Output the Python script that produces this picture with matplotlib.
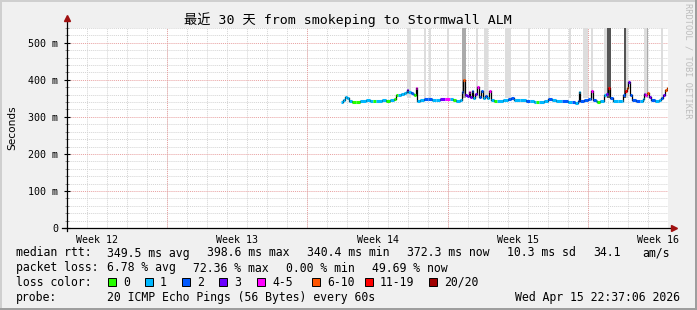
import numpy as np
import matplotlib
matplotlib.use("Agg")
import matplotlib.pyplot as plt
from matplotlib.patches import Rectangle

W, H = 697, 310

# median rtt, time in days since start of the 30 day window
med_t = [13.68, 13.78, 13.88, 13.98, 14.08, 14.23, 14.43, 14.63, 14.93, 15.13,
         15.28, 15.43, 15.73, 15.93, 16.13, 16.33, 16.43, 16.53, 16.68, 16.83,
         16.93, 16.98, 17.03, 17.18, 17.28, 17.33, 17.43, 17.48, 17.62, 17.82,
         18.02, 18.22, 18.42, 18.62, 18.87, 19.12, 19.27, 19.42, 19.62, 19.72,
         19.77, 19.87, 19.97, 20.07, 20.12, 20.22, 20.27, 20.37, 20.47, 20.57,
         20.67, 20.77, 20.87, 20.97, 21.07, 21.17, 21.32, 21.47, 21.77, 22.02,
         22.17, 22.32, 22.62, 22.92, 23.12, 23.32, 23.42, 23.56, 23.81, 24.01,
         24.21, 24.41, 24.71, 25.01, 25.21, 25.36, 25.51, 25.56, 25.61, 25.81,
         26.01, 26.11, 26.16, 26.26, 26.41, 26.46, 26.61, 26.81, 26.91, 27.01,
         27.11, 27.26, 27.51, 27.71, 27.76, 27.86, 27.96, 28.01, 28.11, 28.21,
         28.41, 28.61, 28.76, 28.81, 28.86, 28.96, 29.06, 29.16, 29.36, 29.56,
         29.66, 29.76, 29.86, 29.96]
med_ms = [340, 346, 355, 350, 344, 341, 341, 344, 345, 343,
          344, 344, 345, 344, 345, 347, 358, 360, 362, 365,
          366, 373, 366, 364, 362, 358, 378, 344, 345, 347,
          348, 345, 346, 349, 348, 347, 345, 344, 346, 366,
          400, 360, 357, 368, 355, 371, 352, 362, 382, 354,
          369, 352, 356, 350, 369, 345, 342, 344, 345, 349,
          352, 346, 345, 344, 342, 341, 339, 341, 343, 349,
          345, 343, 342, 341, 340, 337, 342, 366, 344, 345,
          347, 349, 371, 345, 342, 341, 342, 359, 362, 378,
          352, 343, 342, 343, 359, 370, 378, 393, 360, 345,
          342, 343, 349, 362, 359, 365, 355, 345, 344, 345,
          352, 360, 373, 378]
med_loss = [1, 1, 1, 1, 1, 0, 0, 1, 1, 1,
            0, 1, 1, 0, 1, 0, 0, 1, 1, 1,
            1, 3, 1, 2, 1, 0, 4, 1, 1, 2,
            2, 1, 1, 3, 4, 1, 0, 1, 1, 2,
            7, 3, 3, 4, 3, 2, 1, 3, 4, 2,
            2, 1, 2, 1, 4, 1, 0, 1, 1, 2,
            2, 1, 1, 2, 1, 1, 0, 1, 1, 2,
            1, 1, 2, 1, 2, 1, 2, 1, 2, 2,
            2, 2, 4, 2, 1, 0, 1, 1, 3, 12,
            2, 1, 1, 1, 2, 12, 7, 3, 2, 2,
            2, 1, 1, 3, 4, 7, 3, 2, 1, 1,
            2, 3, 7, 7]

# smoke bands reaching past the top of the graph
smoke_start = [16.97, 17.82, 18.07, 18.97, 19.72, 20.42, 20.82, 21.87, 23.02, 24.01,
               25.06, 25.76, 26.16, 26.81, 26.96, 27.81, 27.91, 28.81, 28.96, 29.66]
smoke_end = [17.17, 17.90, 18.17, 19.07, 19.92, 20.52, 21.02, 22.17, 23.12, 24.11,
             25.16, 26.01, 26.26, 26.96, 27.16, 27.91, 28.01, 29.01, 29.01, 29.76]
smoke_level = [1, 1, 1, 1, 2, 1, 1, 1, 1, 1,
               1, 1, 1, 1, 3, 3, 1, 1, 2, 1]
smoke_base = 350

loss_labels = ['0', '1', '2', '3', '4-5', '6-10', '11-19', '20/20']
loss_upper = [0, 1, 2, 3, 5, 10, 19, 20]
loss_colors = ['#26ff00', '#00b8ff', '#0059ff', '#6a00ff', '#ff00ff', '#ff5500', '#ff0000', '#a00000']
smoke_colors = {1: '#dddddd', 2: '#aaaaaa', 3: '#555555'}

week_pos = [1.5, 8.5, 15.5, 22.5, 29.5]
week_labels = ['Week 12', 'Week 13', 'Week 14', 'Week 15', 'Week 16']
week_lines = [5, 12, 19, 26]

MONO = 'DejaVu Sans Mono'


def px(x, y):
    return x / W, 1 - y / H


def loss_color(n):
    for up, c in zip(loss_upper, loss_colors):
        if n <= up:
            return c
    return loss_colors[-1]


fig = plt.figure(figsize=(W / 100, H / 100), dpi=100, facecolor='#f0f0f0')

# frame shading
fig.add_artist(Rectangle((0, 0), 2 / W, 1, transform=fig.transFigure, color='#cfcfcf', lw=0))
fig.add_artist(Rectangle((0, 1 - 2 / H), 1, 2 / H, transform=fig.transFigure, color='#cfcfcf', lw=0))
fig.add_artist(Rectangle((1 - 2 / W, 0), 2 / W, 1, transform=fig.transFigure, color='#9e9e9e', lw=0))
fig.add_artist(Rectangle((0, 0), 1, 2 / H, transform=fig.transFigure, color='#9e9e9e', lw=0))

left, top, right, bottom = 67, 28, 668, 228
ax = fig.add_axes([left / W, 1 - bottom / H, (right - left) / W, (bottom - top) / H])
ax.set_facecolor('white')
ax.set_xlim(0, 30)
ax.set_ylim(0, 540)
for s in ax.spines.values():
    s.set_visible(False)

# grid
ax.set_xticks(np.arange(0, 31, 1), minor=True)
ax.set_yticks(np.arange(0, 541, 20), minor=True)
ax.set_yticks(np.arange(0, 501, 100))
ax.set_yticklabels(['0'] + ['%d m' % v for v in range(100, 501, 100)])
ax.set_xticks(week_pos)
ax.set_xticklabels(week_labels)
ax.xaxis.grid(True, which='minor', color='#d4d4d4', ls=(0, (1, 1)), lw=0.7)
ax.yaxis.grid(True, which='minor', color='#d4d4d4', ls=(0, (1, 1)), lw=0.7)
ax.yaxis.grid(True, which='major', color='#e8a0a0', ls=(0, (1, 1)), lw=0.7)
for d in week_lines:
    ax.axvline(d, color='#e8a0a0', ls=(0, (1, 1)), lw=0.7)
ax.set_axisbelow(True)

ax.tick_params(axis='x', which='major', length=0, labelsize=7.2, pad=5)
ax.tick_params(axis='x', which='minor', length=0)
ax.tick_params(axis='y', which='major', length=5, direction='inout', labelsize=7.2, pad=4, width=0.8)
ax.tick_params(axis='y', which='minor', length=3, direction='inout', width=0.6, color='#808080')
for lab in ax.get_xticklabels() + ax.get_yticklabels():
    lab.set_family(MONO)

# smoke
for s, e, lv in zip(smoke_start, smoke_end, smoke_level):
    ax.fill_between([s, e], smoke_base, 540, color=smoke_colors[lv], lw=0, step='pre', zorder=2)

# median line coloured by loss
t = list(med_t) + [30.0]
for i in range(len(med_ms)):
    ax.plot([t[i], t[i + 1]], [med_ms[i], med_ms[i]], color=loss_color(med_loss[i]),
            lw=2.2, solid_capstyle='butt', zorder=4)
    if i + 1 < len(med_ms):
        ax.plot([t[i + 1], t[i + 1]], [med_ms[i], med_ms[i + 1]], color='black', lw=0.9, zorder=3)

# axes with arrows
ax.plot([0, 0], [-8, 560], color='black', lw=0.9, clip_on=False, zorder=5)
ax.plot([-0.25, 30.2], [0, 0], color='black', lw=0.9, clip_on=False, zorder=5)
ax.plot([0], [566], marker='^', color='#a01010', ms=4, clip_on=False, zorder=6)
ax.plot([30.3], [0], marker='>', color='#a01010', ms=4, clip_on=False, zorder=6)

# texts
fig.text(*px(348, 20), '最近 30 天 from smokeping to Stormwall ALM', ha='center', va='center',
         family=[MONO, 'Noto Sans CJK SC'], size=9.5)
fig.text(*px(12, 128), 'Seconds', rotation=90, ha='center', va='center', family='DejaVu Sans', size=7.6)
fig.text(*px(688, 61), 'RRDTOOL / TOBI OETIKER', rotation=270, ha='center', va='center',
         family=MONO, size=6.2, color='#bdbdbd')

fs = 8.3
line1 = [(16, 'median rtt:'), (107, '349.5 ms avg'), (207, '398.6 ms max'), (307, '340.4 ms min'),
         (407, '372.3 ms now'), (507, '10.3 ms sd'), (593, '34.1'), (642, 'am/s')]
line2 = [(16, 'packet loss:'), (107, '6.78 % avg'), (193, '72.36 % max'), (286, '0.00 % min'),
         (372, '49.69 % now')]
for xx, s in line1:
    fig.text(*px(xx, 253), s, ha='left', va='center', family=MONO, size=fs)
for xx, s in line2:
    fig.text(*px(xx, 268), s, ha='left', va='center', family=MONO, size=fs)

fig.text(*px(16, 282), 'loss color:', ha='left', va='center', family=MONO, size=fs)
sq_x = [108, 145, 182, 219, 257, 312, 365, 429]
for xx, lab, c in zip(sq_x, loss_labels, loss_colors):
    x0, y0 = px(xx, 286)
    fig.add_artist(Rectangle((x0, y0), 8 / W, 8 / H, transform=fig.transFigure,
                             facecolor=c, edgecolor='black', lw=0.7))
    fig.text(*px(xx + 15, 282), lab, ha='left', va='center', family=MONO, size=fs)

fig.text(*px(16, 297), 'probe:', ha='left', va='center', family=MONO, size=fs)
fig.text(*px(107, 297), '20 ICMP Echo Pings (56 Bytes) every 60s', ha='left', va='center', family=MONO, size=fs)
fig.text(*px(680, 297), 'Wed Apr 15 22:37:06 2026', ha='right', va='center', family=MONO, size=fs)

fig.savefig('out.png', dpi=100, facecolor=fig.get_facecolor())
